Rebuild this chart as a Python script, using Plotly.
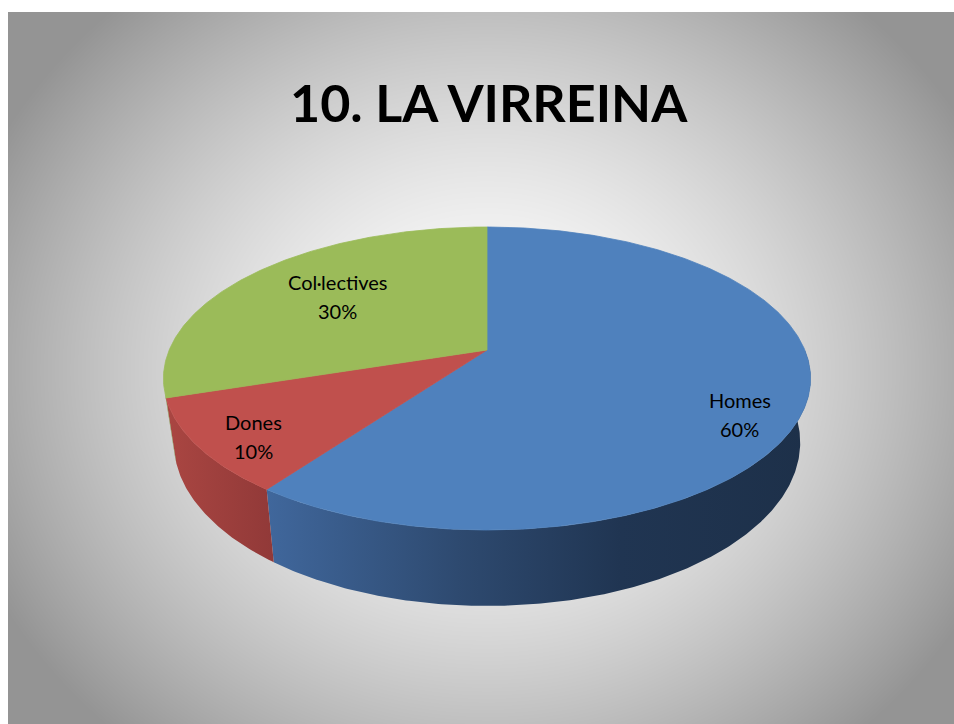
import base64
import struct
import zlib

import numpy as np
import plotly.graph_objects as go

# data
categories = ["Homes", "Dones", "Col·lectives"]
values = [60, 10, 30]
title_text = "10. LA VIRREINA"

top_colors = ["#4f81bd", "#c0504d", "#9bbb59"]
side_scales = [
    [[0, "#40679c"], [0.35, "#2e4a70"], [0.65, "#203552"], [1, "#1d3049"]],
    [[0, "#aa4642"], [1, "#913938"]],
    [[0, "#839e4b"], [1, "#7a9446"]],
]
label_radius = [0.84, 0.85, 0.64]
label_shift_deg = [11, -3, 2]

W, H = 954, 724

# simple perspective model of the tilted disc (pixel space)
CX = 487.0
P0 = 350.0      # apex y
QY = 80.3       # vertical half-depth
RX = 317.8      # horizontal radius
PERSP = -0.1881
DEPTH = 61.7    # thickness of the pie
BOTTOM_K = 0.968  # bottom rim is further away, so a bit narrower
SIDE_RANGE = (90.0, 254.0)  # part of the rim that shows


def project(t_deg, r=1.0, depth=0.0, k=1.0):
    t = np.radians(t_deg)
    X = r * np.sin(t)
    Z = -r * np.cos(t)
    w = 1 + PERSP * Z
    return CX + k * RX * X / w, (P0 + QY * Z + depth) / w


def gradient_uri():
    x0, y0 = 8, 12
    w, h = W - x0, H - y0
    xs = np.arange(w) + x0 + 0.5
    ys = np.arange(h) + y0 + 0.5
    dx = (xs[None, :] - 487) / 553.0
    dy = (ys[:, None] - 370) / 493.0
    r = np.sqrt(dx ** 2 + dy ** 2)
    g = 255 - 107 * np.minimum(r, 1.0) ** 1.6
    arr = np.clip(g, 0, 255).astype(np.uint8)
    raw = b"".join(b"\x00" + arr[j].tobytes() for j in range(h))

    def chunk(tag, data):
        return (struct.pack(">I", len(data)) + tag + data
                + struct.pack(">I", zlib.crc32(tag + data) & 0xffffffff))

    png = (b"\x89PNG\r\n\x1a\n"
           + chunk(b"IHDR", struct.pack(">IIBBBBB", w, h, 8, 0, 0, 0, 0))
           + chunk(b"IDAT", zlib.compress(raw, 9))
           + chunk(b"IEND", b""))
    return "data:image/png;base64," + base64.b64encode(png).decode()


total = sum(values)
bounds = []
start = 0.0
for v in values:
    end = start + 360.0 * v / total
    bounds.append((start, end))
    start = end

fig = go.Figure()

# sides (front part of the rim; top faces cover the rest)
for (a, b), scale in zip(bounds, side_scales):
    lo, hi = max(a, SIDE_RANGE[0]), min(b, SIDE_RANGE[1])
    if hi <= lo:
        continue
    ts = np.linspace(lo, hi, max(int((hi - lo) * 2), 4))
    xt, yt = project(ts)
    xb, yb = project(ts[::-1], depth=DEPTH, k=BOTTOM_K)
    fig.add_trace(go.Scatter(
        x=np.concatenate([xt, xb]), y=np.concatenate([yt, yb]),
        mode="lines", fill="toself", line=dict(width=0),
        fillgradient=dict(type="horizontal", colorscale=scale),
        hoverinfo="skip", showlegend=False))

# top faces
for (a, b), col in zip(bounds, top_colors):
    ts = np.linspace(a, b, max(int((b - a) * 2), 4))
    xt, yt = project(ts)
    fig.add_trace(go.Scatter(
        x=np.concatenate([[CX], xt, [CX]]), y=np.concatenate([[P0], yt, [P0]]),
        mode="lines", fill="toself", fillcolor=col,
        line=dict(width=0.8, color=col),
        hoverinfo="skip", showlegend=False))

annotations = []
for i, ((a, b), name, v) in enumerate(zip(bounds, categories, values)):
    lx, ly = project((a + b) / 2 + label_shift_deg[i], r=label_radius[i])
    pct = f"{round(100 * v / total)}%"
    for txt, ys in ((name, 14.5), (pct, -14.5)):
        annotations.append(dict(
            x=float(lx), y=float(ly), xref="x", yref="y", text=txt,
            showarrow=False, yshift=ys, xanchor="center", yanchor="middle",
            font=dict(family="Lato", size=20, color="black")))

annotations.append(dict(
    x=489 / W, y=1 - 102 / H, xref="paper", yref="paper",
    text=f"<b>{title_text}</b>", showarrow=False,
    xanchor="center", yanchor="middle",
    font=dict(family="Lato", size=52, color="black")))

fig.update_layout(
    width=W, height=H,
    margin=dict(l=0, r=0, t=0, b=0),
    paper_bgcolor="white",
    plot_bgcolor="rgba(0,0,0,0)",
    xaxis=dict(range=[0, W], visible=False, fixedrange=True),
    yaxis=dict(range=[H, 0], visible=False, fixedrange=True),
    annotations=annotations,
    images=[dict(
        source=gradient_uri(), xref="paper", yref="paper",
        x=8 / W, y=1 - 12 / H, sizex=(W - 8) / W, sizey=(H - 12) / H,
        xanchor="left", yanchor="top", sizing="stretch", layer="below")],
)

fig.write_html(
    "out.html",
    config={"displayModeBar": False},
    post_script="document.body.style.margin='0';document.body.style.overflow='hidden';",
)
